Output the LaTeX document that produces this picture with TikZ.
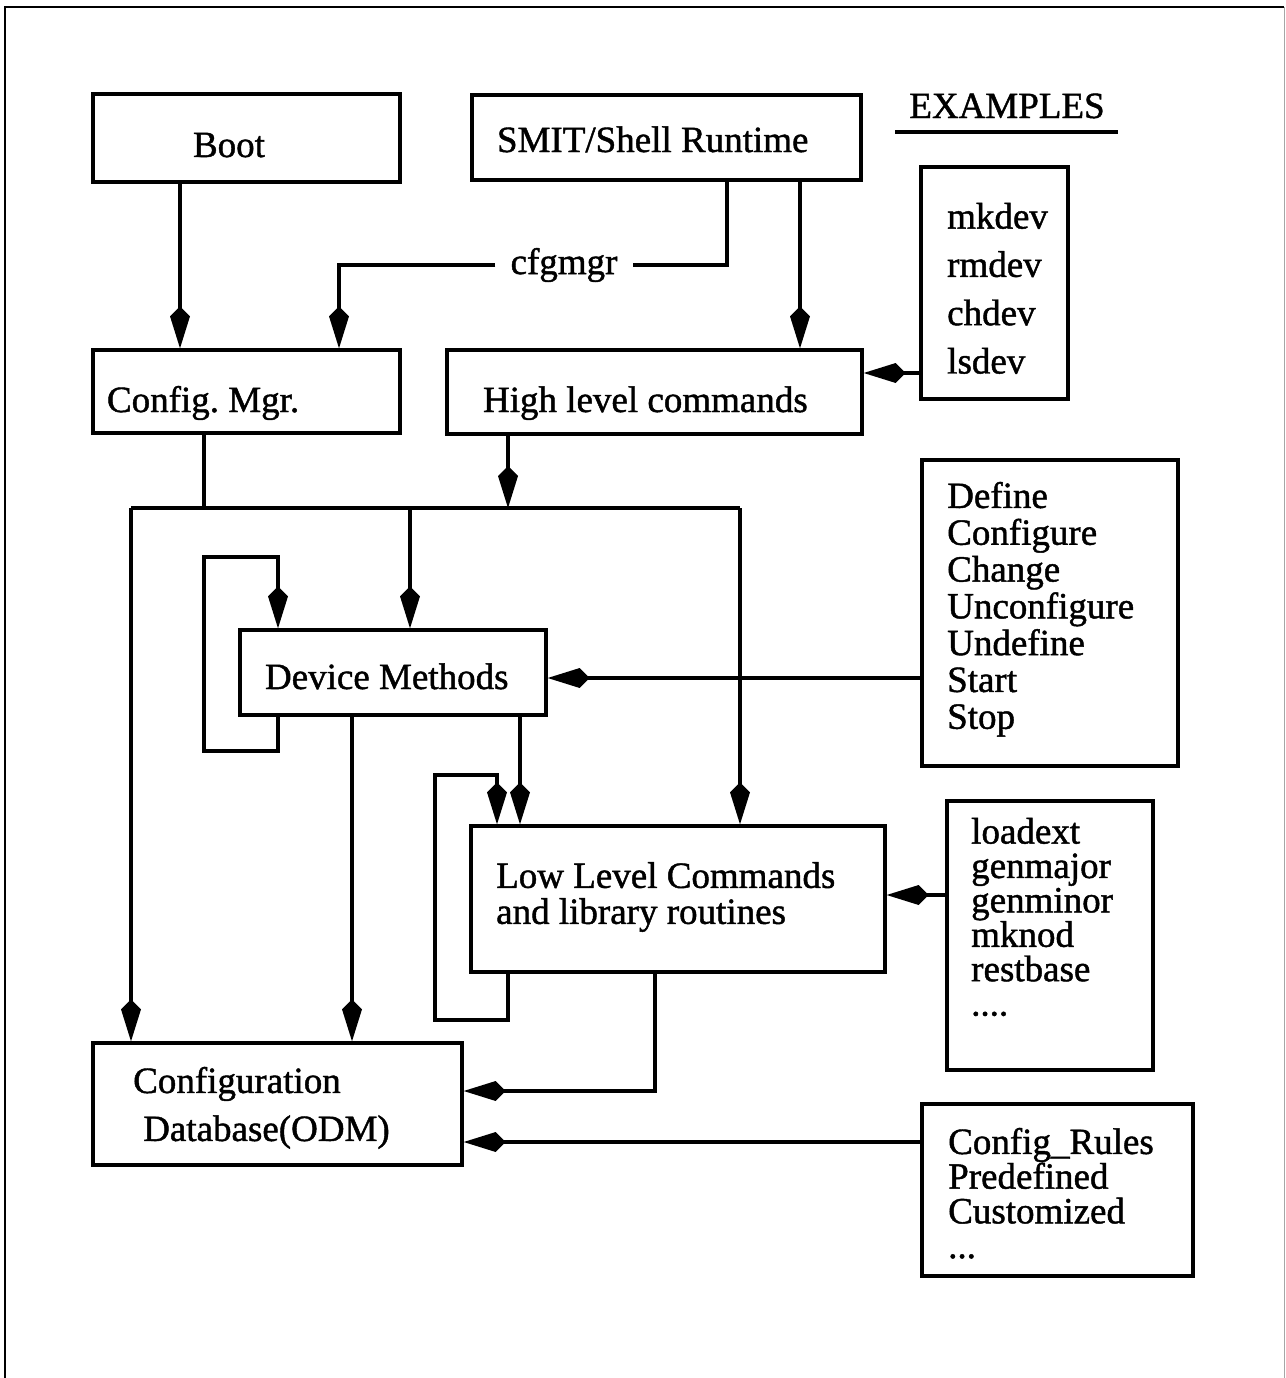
\documentclass[tikz,border=0pt]{standalone}
\usepackage{fontspec}
\setmainfont{Liberation Serif}[FakeBold=1.2]
\usetikzlibrary{arrows.meta,calc}
\begin{document}
\begin{tikzpicture}[x=1pt,y=-1pt,
  box/.style={draw, line width=3.4pt, inner ysep=0pt, align=flush left},
  txt/.style={inner sep=0pt, align=flush left},
  conn/.style={line width=3.4pt},
  arr/.style={conn, -{Kite[length=42pt,width=20pt,inset=10pt]}},
  every node/.style={font=\fontsize{37}{37}\selectfont}
]
\useasboundingbox (0,0) rectangle (1285,1378);
% outer frame
\draw[line width=2.2pt] (5,1378) -- (5,7) -- (1284,7);
\draw[line width=1pt, black!35] (1284,7) -- (1284,1378);

% single-line boxes (text width = W - 2*pad)
\node[box, minimum width=307pt, minimum height=88pt, inner xsep=100pt, text width=107pt, text height=38pt, text depth=0pt] (boot) at (246.5,138) {Boot};
\node[box, minimum width=389pt, minimum height=85pt, inner xsep=25pt, text width=339pt, text height=29pt, text depth=0pt] (smit) at (666.5,137.5) {SMIT/Shell Runtime};
\node[box, minimum width=307pt, minimum height=83pt, inner xsep=14pt, text width=279pt, text height=41pt, text depth=0pt] (cm) at (246.5,391.5) {Config.\ Mgr.};
\node[box, minimum width=415pt, minimum height=84pt, inner xsep=36pt, text width=343pt, text height=40pt, text depth=0pt] (hl) at (654.5,392) {High level commands};
\node[box, minimum width=306pt, minimum height=85pt, inner xsep=25pt, text width=256pt, text height=33pt, text depth=0pt] (dm) at (393,672.5) {Device Methods};

% multi-line boxes
\node[box, minimum width=147pt, minimum height=232pt] (mk) at (994.5,283) {};
\node[txt, anchor=north west, font=\fontsize{37}{48.3}\selectfont] (mkt) at (947,202.7) {mkdev\\rmdev\\chdev\\lsdev};

\node[box, minimum width=256pt, minimum height=306pt] (def) at (1050,613) {};
\node[txt, anchor=north west, font=\fontsize{37}{36.8}\selectfont] (deft) at (947,481.7) {Define\\Configure\\Change\\Unconfigure\\Undefine\\Start\\Stop};

\node[box, minimum width=414pt, minimum height=146pt] (ll) at (678,899) {};
\node[txt, anchor=north west, font=\fontsize{37}{36}\selectfont] (llt) at (496,862) {Low Level Commands\\and library routines};

\node[box, minimum width=206pt, minimum height=269pt] (ld) at (1050,935.5) {};
\node[txt, anchor=north west, font=\fontsize{37}{34.4}\selectfont] (ldt) at (971,817.7) {loadext\\genmajor\\genminor\\mknod\\restbase\\....};

\node[box, minimum width=369pt, minimum height=122pt] (db) at (277.5,1104) {};
\node[txt, anchor=north west, font=\fontsize{37}{48}\selectfont] (dbt) at (133,1066.7) {Configuration\\\hspace*{10pt}Database(ODM)};

\node[box, minimum width=271pt, minimum height=172pt] (cr) at (1057.5,1190) {};
\node[txt, anchor=north west, font=\fontsize{37}{34.7}\selectfont] (crt) at (948,1127.7) {Config\_Rules\\Predefined\\Customized\\...};

% EXAMPLES heading
\node[inner sep=0pt, anchor=base] (ex) at (1007,118) {EXAMPLES};
\draw[conn] (895,132) -- (1118,132);

% cfgmgr label
\node[inner xsep=15pt, inner ysep=0pt] (cfg) at (564,265) {cfgmgr};

% connectors
\draw[arr] (boot.south -| 180,0) -- (cm.north -| 180,0);
\draw[conn] (smit.south -| 727,0) |- (cfg.east);
\draw[arr] (cfg.west) -| (cm.north -| 339,0);
\draw[arr] (smit.south -| 800,0) -- (hl.north -| 800,0);
\draw[arr] (mk.west |- 0,373) -- (hl.east |- 0,373);

\coordinate (busL) at (131,508);
\coordinate (busR) at (740,508);
\coordinate (busM) at (410,508);
\coordinate (busH) at (508,508);
\draw[conn] (cm.south -| 204,0) |- (busL) -- (busR);
\draw[arr] (hl.south -| busH) -- (busH);
\draw[arr] (busL) -- (db.north -| busL);
\draw[arr] (busM) -- (dm.north -| busM);
\draw[arr] (busR) -- (ll.north -| busR);

\draw[arr] (dm.south -| 278,0) -- (278,751) -- (204,751) -- (204,557) -- (278,557) -- (dm.north -| 278,0);
\draw[arr] (def.west |- 0,678) -- (dm.east |- 0,678);
\draw[arr] (dm.south -| 352,0) -- (db.north -| 352,0);
\draw[arr] (dm.south -| 520,0) -- (ll.north -| 520,0);

\draw[arr] (ll.south -| 508,0) -- (508,1020) -- (435,1020) -- (435,775) -- (497,775) -- (ll.north -| 497,0);
\draw[arr] (ld.west |- 0,895) -- (ll.east |- 0,895);
\draw[arr] (ll.south -| 655,0) |- (db.east |- 0,1091);
\draw[arr] (cr.west |- 0,1142) -- (db.east |- 0,1142);
\end{tikzpicture}
\end{document}
